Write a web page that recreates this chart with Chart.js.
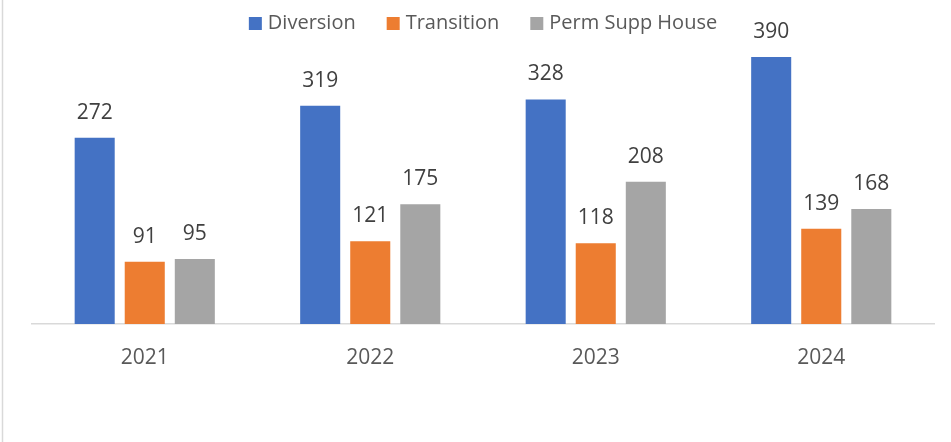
<!DOCTYPE html>
<html>
<head>
<meta charset="utf-8">
<script src="https://cdn.jsdelivr.net/npm/chart.js@4/dist/chart.umd.min.js"></script>
<style>
html,body{margin:0;padding:0;background:#fff;}
#wrap{width:951px;height:442px;position:relative;}
</style>
</head>
<body>
<div id="wrap"><canvas id="c" width="951" height="442"></canvas></div>
<script>
const years = ['2021', '2022', '2023', '2024'];
const diversion = [272, 319, 328, 390];
const transition = [91, 121, 118, 139];
const permSuppHouse = [95, 175, 208, 168];
const seriesNames = ['Diversion', 'Transition', 'Perm Supp House'];
const seriesColors = ['#4472C4', '#ED7D31', '#A5A5A5'];

const FONT = '"Open Sans", "DejaVu Sans", sans-serif';

const framePlugin = {
  id: 'frame',
  beforeDraw(chart) {
    const ctx = chart.ctx;
    ctx.save();
    ctx.fillStyle = '#ffffff';
    ctx.fillRect(0, 0, chart.width, chart.height);
    ctx.strokeStyle = '#d9d9d9';
    ctx.lineWidth = 1.5;
    ctx.beginPath();
    ctx.moveTo(2.5, 0);
    ctx.lineTo(2.5, chart.height);
    ctx.stroke();
    ctx.restore();
  }
};

const labelPlugin = {
  id: 'valueLabels',
  afterDatasetsDraw(chart) {
    const ctx = chart.ctx;
    ctx.save();
    ctx.font = '21px ' + FONT;
    ctx.fillStyle = '#404040';
    ctx.textAlign = 'center';
    ctx.textBaseline = 'middle';
    chart.data.datasets.forEach((ds, i) => {
      const meta = chart.getDatasetMeta(i);
      meta.data.forEach((bar, j) => {
        ctx.fillText(String(ds.data[j]), bar.x, bar.y - 25);
      });
    });
    ctx.restore();
  }
};

const legendPlugin = {
  id: 'customLegend',
  afterDraw(chart) {
    const ctx = chart.ctx;
    ctx.save();
    ctx.font = '20px ' + FONT;
    ctx.textBaseline = 'middle';
    const box = 13, gapBoxText = 6, gapItems = 31;
    const items = chart.data.datasets.map(ds => ({label: ds.label, color: ds.backgroundColor, w: ctx.measureText(ds.label).width}));
    let total = 0;
    items.forEach((it, i) => { total += box + gapBoxText + it.w + (i ? gapItems : 0); });
    const ca = chart.chartArea;
    let x = (ca.left + ca.right) / 2 - total / 2;
    const cy = 23.5;
    items.forEach(it => {
      ctx.fillStyle = it.color;
      ctx.fillRect(x, cy - box / 2, box, box);
      ctx.fillStyle = '#595959';
      ctx.fillText(it.label, x + box + gapBoxText, cy);
      x += box + gapBoxText + it.w + gapItems;
    });
    ctx.restore();
  }
};

new Chart(document.getElementById('c'), {
  type: 'bar',
  data: {
    labels: years,
    datasets: [
      {label: seriesNames[0], data: diversion, backgroundColor: seriesColors[0]},
      {label: seriesNames[1], data: transition, backgroundColor: seriesColors[1]},
      {label: seriesNames[2], data: permSuppHouse, backgroundColor: seriesColors[2]}
    ]
  },
  options: {
    responsive: false,
    animation: false,
    devicePixelRatio: 1,
    categoryPercentage: 0.666,
    barPercentage: 0.8,
    layout: {padding: {left: 32, right: 17, top: 16, bottom: 0}},
    plugins: {legend: {display: false}, tooltip: {enabled: false}},
    scales: {
      x: {
        grid: {display: true, drawOnChartArea: false, drawTicks: false},
        border: {display: true, color: '#d9d9d9', width: 1.5},
        ticks: {color: '#595959', font: {family: FONT, size: 21}, padding: 21},
        afterFit(scale) { scale.height = 118; }
      },
      y: {
        display: false,
        min: 0,
        max: 450
      }
    }
  },
  plugins: [framePlugin, labelPlugin, legendPlugin]
});
</script>
</body>
</html>
